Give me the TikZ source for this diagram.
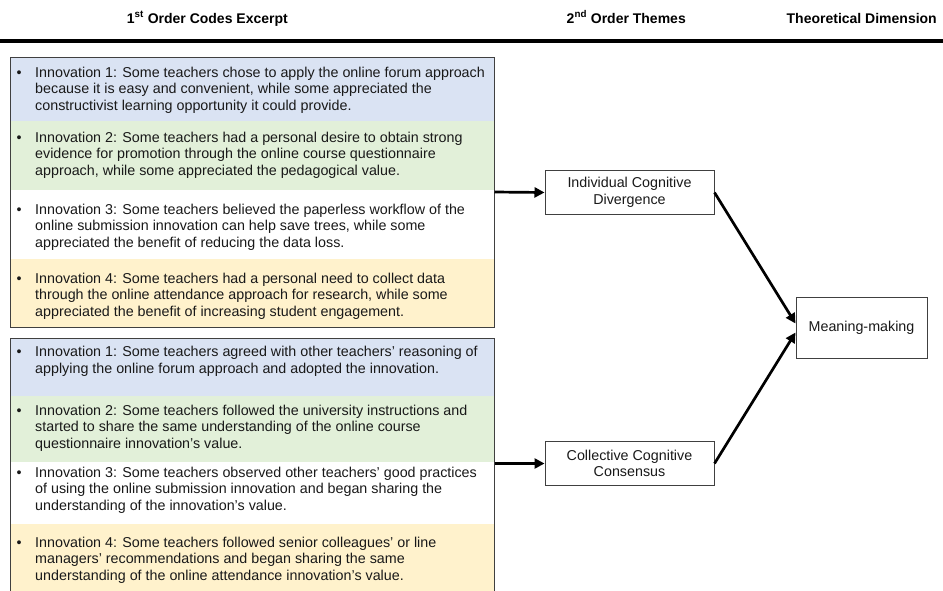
\documentclass[tikz,border=0pt]{standalone}
\usepackage{fontspec}
\setmainfont{Liberation Sans}
\usetikzlibrary{arrows.meta,calc}
\definecolor{cblue}{HTML}{DAE3F3}
\definecolor{cgreen}{HTML}{E2F0D9}
\definecolor{cyellow}{HTML}{FFF2CC}
\definecolor{cborder}{HTML}{404040}
\newcommand{\itemtxt}[1]{\makebox[18.5pt][l]{•}\parbox[t]{470pt}{\raggedright #1}}
\begin{document}
\begin{tikzpicture}[x=1pt,y=-1pt,
  bodyfont/.style={font=\fontsize{14.3}{16.8}\selectfont},
  headfont/.style={font=\fontsize{14}{16}\selectfont\bfseries},
  itemnode/.style={bodyfont,anchor=base west,inner sep=0pt,text=black!90},
  bigbox/.style={draw=cborder,line width=1pt,inner sep=0pt},
  themebox/.style={draw=cborder,line width=1pt,fill=white,bodyfont,align=center,inner sep=0pt,text=black!90,font=\fontsize{14.3}{16.6}\selectfont},
  conn/.style={line width=2.7pt,-{Triangle[length=10pt,width=10pt]}}
]
\useasboundingbox (0,0) rectangle (943,590);
% headers
\node[headfont,anchor=base east,inner sep=0pt] (h1) at (288,23) {1\textsuperscript{st} Order Codes Excerpt};
\node[headfont,anchor=base east,inner sep=0pt] (h2) at (686,23) {2\textsuperscript{nd} Order Themes};
\node[headfont,anchor=base east,inner sep=0pt] (h3) at (937,23) {Theoretical Dimension};
\coordinate (rl) at (0,41);
\coordinate (rr) at (943,41);
\draw[line width=3.5pt] (rl) -- (rr);
% section fills box 1
\fill[cblue] (10,57) rectangle (494,121);
\fill[cgreen] (10,121) rectangle (494,190);
\fill[white] (10,190) rectangle (494,259);
\fill[cyellow] (10,259) rectangle (494,327);
% section fills box 2
\fill[cblue] (10,338) rectangle (494,396);
\fill[cgreen] (10,396) rectangle (494,462);
\fill[white] (10,462) rectangle (494,524);
\fill[cyellow] (10,524) rectangle (494,593);
% outer boxes
\node[bigbox,minimum width=484pt,minimum height=270pt] (b1) at (252,192) {};
\node[bigbox,minimum width=484pt,minimum height=255pt] (b2) at (252,465.5) {};
% items box 1
\node[itemnode] (a1) at (16.5,77) {\itemtxt{Innovation 1: Some teachers chose to apply the online forum approach\\because it is easy and convenient, while some appreciated the\\constructivist learning opportunity it could provide.}};
\node[itemnode] (a2) at (16.5,142) {\itemtxt{Innovation 2: Some teachers had a personal desire to obtain strong\\evidence for promotion through the online course questionnaire\\approach, while some appreciated the pedagogical value.}};
\node[itemnode] (a3) at (16.5,214) {\itemtxt{Innovation 3: Some teachers believed the paperless workflow of the\\online submission innovation can help save trees, while some\\appreciated the benefit of reducing the data loss.}};
\node[itemnode] (a4) at (16.5,283) {\itemtxt{Innovation 4: Some teachers had a personal need to collect data\\through the online attendance approach for research, while some\\appreciated the benefit of increasing student engagement.}};
% items box 2
\node[itemnode] (c1) at (16.5,356.5) {\itemtxt{Innovation 1: Some teachers agreed with other teachers’ reasoning of\\applying the online forum approach and adopted the innovation.}};
\node[itemnode] (c2) at (16.5,415) {\itemtxt{Innovation 2: Some teachers followed the university instructions and\\started to share the same understanding of the online course\\questionnaire innovation’s value.}};
\node[itemnode] (c3) at (16.5,477) {\itemtxt{Innovation 3: Some teachers observed other teachers’ good practices\\of using the online submission innovation and began sharing the\\understanding of the innovation’s value.}};
\node[itemnode] (c4) at (16.5,547) {\itemtxt{Innovation 4: Some teachers followed senior colleagues’ or line\\managers’ recommendations and began sharing the same\\understanding of the online attendance innovation’s value.}};
% theme boxes
\node[themebox,minimum width=169pt,minimum height=44pt] (ind) at (629.5,192.5) {Individual Cognitive\\Divergence};
\node[themebox,minimum width=169pt,minimum height=44pt] (col) at (629.5,463.5) {Collective Cognitive\\Consensus};
\node[themebox,minimum width=131pt,minimum height=61pt] (mm) at (861.5,327.5) {Meaning-making};
% connectors
\draw[conn] (b1.east) -- (ind.west);
\draw[conn] (b2.east |- col.west) -- (col.west);
\draw[conn] (ind.east) -- ($(mm.west)+(0,-4)$);
\draw[conn] (col.east) -- ($(mm.west)+(0,5)$);
\end{tikzpicture}
\end{document}
